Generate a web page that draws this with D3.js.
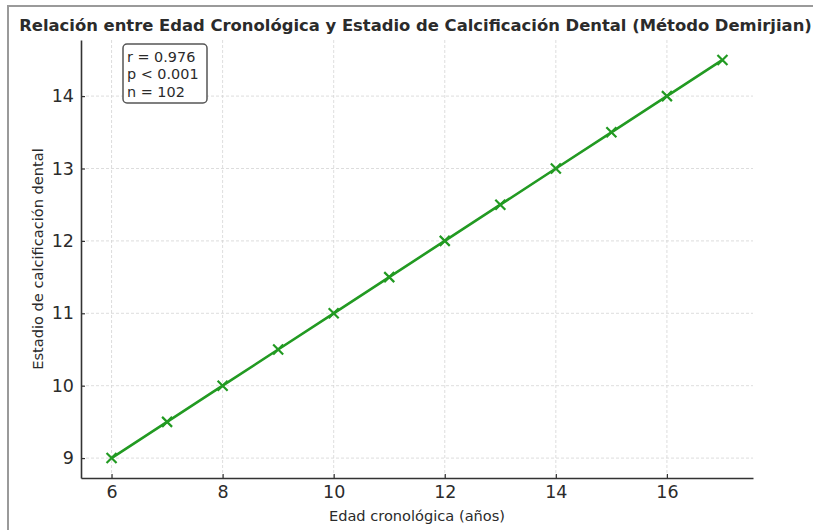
<!DOCTYPE html>
<html>
<head>
<meta charset="utf-8">
<script src="https://cdn.jsdelivr.net/npm/d3@7"></script>
<style>
  body { margin: 0; background: #fff; }
  svg { display: block; font-family: "DejaVu Sans", sans-serif; }
</style>
</head>
<body>
<div id="chart"></div>
<script>
// datos: edad cronológica vs estadio de calcificación
var edades = [6, 7, 8, 9, 10, 11, 12, 13, 14, 15, 16, 17];
var estadios = [9, 9.5, 10, 10.5, 11, 11.5, 12, 12.5, 13, 13.5, 14, 14.5];
var xTicks = [6, 8, 10, 12, 14, 16];
var yTicks = [9, 10, 11, 12, 13, 14];
var statsLines = ["r = 0.976", "p < 0.001", "n = 102"];

var titulo = "Relación entre Edad Cronológica y Estadio de Calcificación Dental (Método Demirjian)";
var etiquetaX = "Edad cronológica (años)";
var etiquetaY = "Estadio de calcificación dental";

var larg = 813, haut = 530;
var m = {left: 81, right: 753, top: 40, bottom: 478};
var verde = "#229a22";

var svg = d3.select("#chart").append("svg")
    .attr("width", larg)
    .attr("height", haut);

// marco gris de la imagen
svg.append("path")
    .attr("d", "M8,530 L8,6 L813,6")
    .attr("fill", "none")
    .attr("stroke", "#9a9a9a")
    .attr("stroke-width", 2);

// margenes 5% como matplotlib
var xPad = (d3.max(edades) - d3.min(edades)) * 0.05;
var yPad = (d3.max(estadios) - d3.min(estadios)) * 0.05;
var x = d3.scaleLinear()
    .domain([d3.min(edades) - xPad, d3.max(edades) + xPad])
    .range([m.left, m.right]);
var y = d3.scaleLinear()
    .domain([d3.min(estadios) - yPad, d3.max(estadios) + yPad])
    .range([m.bottom, m.top]);

// grilla
svg.append("g").selectAll("line")
    .data(xTicks).enter().append("line")
    .attr("x1", function(d){ return x(d); })
    .attr("x2", function(d){ return x(d); })
    .attr("y1", m.top).attr("y2", m.bottom)
    .attr("stroke", "#d4d4d4").attr("stroke-width", 0.8)
    .attr("stroke-dasharray", "3,2");
svg.append("g").selectAll("line")
    .data(yTicks).enter().append("line")
    .attr("x1", m.left).attr("x2", m.right)
    .attr("y1", function(d){ return y(d); })
    .attr("y2", function(d){ return y(d); })
    .attr("stroke", "#d4d4d4").attr("stroke-width", 0.8)
    .attr("stroke-dasharray", "3,2");

// ejes
var fmt = d3.format("d");
var gx = svg.append("g")
    .attr("transform", "translate(0," + m.bottom + ")")
    .call(d3.axisBottom(x).tickValues(xTicks).tickFormat(fmt).tickSizeInner(-4).tickSizeOuter(0).tickPadding(8));
var gy = svg.append("g")
    .attr("transform", "translate(" + m.left + ",0)")
    .call(d3.axisLeft(y).tickValues(yTicks).tickFormat(fmt).tickSizeInner(-4).tickSizeOuter(0).tickPadding(7));
[gx, gy].forEach(function(g){
    g.select(".domain").attr("stroke", "#333").attr("stroke-width", 1.6);
    g.selectAll(".tick line").attr("stroke", "#333").attr("stroke-width", 1.2);
    g.selectAll(".tick text")
        .attr("fill", "#2b2b2b")
        .attr("font-size", "17.5px")
        .attr("font-family", "DejaVu Sans, sans-serif");
});

// linea + marcadores x
var pts = edades.map(function(d, i){ return {x: d, y: estadios[i]}; });
svg.append("path")
    .datum(pts)
    .attr("fill", "none")
    .attr("stroke", verde)
    .attr("stroke-width", 2.6)
    .attr("d", d3.line().x(function(d){ return x(d.x); }).y(function(d){ return y(d.y); }));
var s = 5;
svg.append("g").selectAll("path")
    .data(pts).enter().append("path")
    .attr("d", function(d){
        var cx = x(d.x), cy = y(d.y);
        return "M" + (cx - s) + "," + (cy - s) + "L" + (cx + s) + "," + (cy + s) +
               "M" + (cx - s) + "," + (cy + s) + "L" + (cx + s) + "," + (cy - s);
    })
    .attr("stroke", verde)
    .attr("stroke-width", 2.2);

// titulo y etiquetas
svg.append("text")
    .text(titulo)
    .attr("x", 415.5)
    .attr("y", 31)
    .attr("text-anchor", "middle")
    .attr("font-weight", "bold")
    .attr("font-size", "16.4px")
    .attr("fill", "#2b2b2b");
svg.append("text")
    .text(etiquetaX)
    .attr("x", (m.left + m.right) / 2)
    .attr("y", 521)
    .attr("text-anchor", "middle")
    .attr("font-size", "14.6px")
    .attr("fill", "#2b2b2b");
svg.append("text")
    .text(etiquetaY)
    .attr("transform", "translate(43," + ((m.top + m.bottom) / 2) + ") rotate(-90)")
    .attr("text-anchor", "middle")
    .attr("font-size", "14.6px")
    .attr("fill", "#2b2b2b");

// caja de estadisticos
svg.append("rect")
    .attr("x", 123).attr("y", 44)
    .attr("width", 84).attr("height", 59)
    .attr("rx", 4)
    .attr("fill", "#fff")
    .attr("stroke", "#555")
    .attr("stroke-width", 1.5);
svg.append("g").selectAll("text")
    .data(statsLines).enter().append("text")
    .text(function(d){ return d; })
    .attr("x", 127)
    .attr("y", function(d, i){ return 62 + i * 17.3; })
    .attr("font-size", "14.4px")
    .attr("fill", "#2b2b2b");
</script>
</body>
</html>
